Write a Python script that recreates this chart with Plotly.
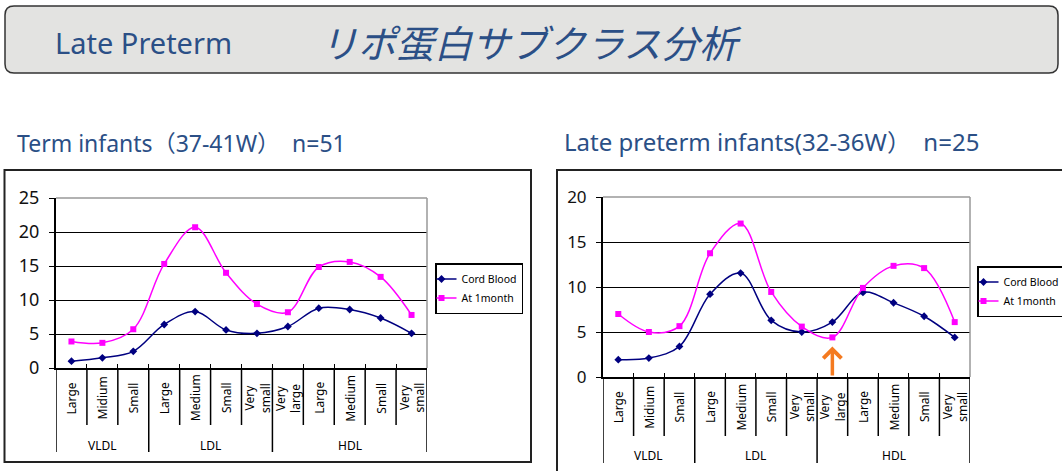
import plotly.graph_objects as go

# ---------------- data ----------------
categories = ["Large", "Midium", "Small", "Large", "Medium", "Small", "Very<br>small",
              "Very<br>large", "Large", "Medium", "Small", "Very<br>small"]
groups = ["VLDL", "LDL", "HDL"]
group_sizes = [3, 4, 5]

term_cord = [1.0, 1.5, 2.45, 6.4, 8.3, 5.6, 5.1, 6.1, 8.8, 8.6, 7.35, 5.1]
term_month = [3.9, 3.7, 5.7, 15.3, 20.7, 14.0, 9.4, 8.2, 14.85, 15.6, 13.4, 7.8]
late_cord = [1.93, 2.1, 3.4, 9.2, 11.55, 6.3, 5.0, 6.1, 9.4, 8.25, 6.75, 4.4]
late_month = [7.0, 5.0, 5.65, 13.75, 17.05, 9.45, 5.6, 4.4, 9.9, 12.35, 12.1, 6.1]
arrow_value = 3.4
arrow_index = 7

series_names = ["Cord Blood", "At 1month"]
main_title = "Late Preterm"
main_title_jp = "リポ蛋白サブクラス分析"
sub_left = "Term infants（37-41W）  n=51"
sub_right = "Late preterm infants(32-36W）  n=25"

# ---------------- layout helpers ----------------
W, H = 1062, 471


def fx(px):
    return px / W


def fy(py):
    return 1 - py / H


LATIN = "Noto Sans, Noto Sans CJK JP, sans-serif"
CJK = "Noto Sans CJK JP, Noto Sans, sans-serif"
BLUE = "#2B4F86"
NAVY = "#000080"
MAGENTA = "#FF00FF"

x_idx = list(range(len(categories)))

fig = go.Figure()

panels = [
    dict(xa="x", ya="y", cord=term_cord, month=term_month, legend="legend",
         xdom=(56, 427), ydom=(368, 198), yrange=25, short_bot=425, long_bot=452,
         cat_y=398, grp_y=445, tickfont=18),
    dict(xa="x2", ya="y2", cord=late_cord, month=late_month, legend="legend2",
         xdom=(603, 970), ydom=(377, 197), yrange=20, short_bot=436, long_bot=463,
         cat_y=407, grp_y=455, tickfont=17),
]

shapes = []
annotations = []

for p in panels:
    fig.add_trace(go.Scatter(
        x=x_idx, y=p["cord"], name=series_names[0], mode="lines+markers",
        line=dict(color=NAVY, width=1.5, shape="spline", smoothing=1.0),
        marker=dict(symbol="diamond", size=6, color=NAVY),
        xaxis=p["xa"], yaxis=p["ya"], legend=p["legend"]))
    fig.add_trace(go.Scatter(
        x=x_idx, y=p["month"], name=series_names[1], mode="lines+markers",
        line=dict(color=MAGENTA, width=1.5, shape="spline", smoothing=1.0),
        marker=dict(symbol="square", size=6, color=MAGENTA),
        xaxis=p["xa"], yaxis=p["ya"], legend=p["legend"]))

    # plot-area top/right border (gray)
    shapes.append(dict(type="line", xref=p["xa"] + " domain", yref=p["ya"] + " domain",
                       x0=0, x1=1, y0=1, y1=1, line=dict(color="#999999", width=1.5), layer="above"))
    shapes.append(dict(type="line", xref=p["xa"] + " domain", yref=p["ya"] + " domain",
                       x0=1, x1=1, y0=0, y1=1, line=dict(color="#999999", width=1.5), layer="above"))

    # category dividers below the axis
    bounds = [-0.5]
    acc = -0.5
    for g in group_sizes:
        acc += g
        bounds.append(acc)
    for k in range(len(categories) + 1):
        xb = k - 0.5
        bottom = p["long_bot"] if xb in bounds else p["short_bot"]
        shapes.append(dict(type="line", xref=p["xa"], yref="paper",
                           x0=xb, x1=xb, y0=fy(p["ydom"][0]), y1=fy(bottom),
                           line=dict(color="black", width=1.5)))

    # category labels
    for i, c in enumerate(categories):
        annotations.append(dict(xref=p["xa"], yref="paper", x=i, y=fy(p["cat_y"]),
                                text=c, showarrow=False, textangle=-90,
                                xanchor="center", yanchor="middle",
                                font=dict(family=LATIN, size=12, color="black")))
    # group labels
    start = 0
    for g, n in zip(groups, group_sizes):
        annotations.append(dict(xref=p["xa"], yref="paper", x=start + (n - 1) / 2,
                                y=fy(p["grp_y"]), text=g, showarrow=False,
                                xanchor="center", yanchor="middle",
                                font=dict(family=LATIN, size=12, color="black")))
        start += n

# arrow on right panel
annotations.append(dict(xref="x2", yref="y2", axref="x2", ayref="y2",
                        x=arrow_index, y=arrow_value, ax=arrow_index, ay=0,
                        text="", showarrow=True, arrowhead=4, arrowsize=1,
                        arrowwidth=3.5, arrowcolor="#F47A20"))

# outer chart boxes
shapes.append(dict(type="rect", xref="paper", yref="paper",
                   x0=fx(4.5), x1=fx(531), y0=fy(462), y1=fy(170),
                   line=dict(color="#222222", width=2), layer="below"))
shapes.append(dict(type="rect", xref="paper", yref="paper",
                   x0=fx(557), x1=fx(1075), y0=fy(480), y1=fy(170),
                   line=dict(color="#222222", width=2), layer="below"))

# banner (rounded rect)
x0, x1, y0, y1, r = 5, 1058, 6, 73, 9
path = (f"M {fx(x0 + r)},{fy(y0)} L {fx(x1 - r)},{fy(y0)} "
        f"Q {fx(x1)},{fy(y0)} {fx(x1)},{fy(y0 + r)} "
        f"L {fx(x1)},{fy(y1 - r)} Q {fx(x1)},{fy(y1)} {fx(x1 - r)},{fy(y1)} "
        f"L {fx(x0 + r)},{fy(y1)} Q {fx(x0)},{fy(y1)} {fx(x0)},{fy(y1 - r)} "
        f"L {fx(x0)},{fy(y0 + r)} Q {fx(x0)},{fy(y0)} {fx(x0 + r)},{fy(y0)} Z")
shapes.append(dict(type="path", xref="paper", yref="paper", path=path,
                   fillcolor="#E3E3E1", line=dict(color="#333333", width=1.5), layer="below"))

annotations.append(dict(xref="paper", yref="paper", x=fx(53), y=fy(43), text=main_title,
                        showarrow=False, xanchor="left", yanchor="middle",
                        font=dict(family=LATIN, size=29, color=BLUE)))
annotations.append(dict(xref="paper", yref="paper", x=fx(318), y=fy(42),
                        text="<i>" + main_title_jp + "</i>",
                        showarrow=False, xanchor="left", yanchor="middle",
                        font=dict(family=CJK, size=38, color=BLUE)))
annotations.append(dict(xref="paper", yref="paper", x=fx(15), y=fy(143), text=sub_left,
                        showarrow=False, xanchor="left", yanchor="middle",
                        font=dict(family=LATIN, size=23, color=BLUE)))
annotations.append(dict(xref="paper", yref="paper", x=fx(562), y=fy(142), text=sub_right,
                        showarrow=False, xanchor="left", yanchor="middle",
                        font=dict(family=LATIN, size=24, color=BLUE)))

legend_style = dict(bgcolor="white", bordercolor="black", borderwidth=1.5,
                    font=dict(family=LATIN, size=10.5, color="black"),
                    xanchor="left", yanchor="top", itemwidth=30, tracegroupgap=0,
                    indentation=-15)

layout = dict(
    width=W, height=H,
    margin=dict(l=0, r=0, t=0, b=0, autoexpand=False),
    paper_bgcolor="white", plot_bgcolor="white",
    showlegend=True,
    legend=dict(x=fx(435), y=fy(263), **legend_style),
    legend2=dict(x=fx(977), y=fy(266), **legend_style),
    shapes=shapes, annotations=annotations,
)

for i, p in enumerate(panels):
    sfx = "" if i == 0 else "2"
    layout["xaxis" + sfx] = dict(
        domain=[fx(p["xdom"][0]), fx(p["xdom"][1])], range=[-0.5, len(categories) - 0.5],
        showgrid=False, zeroline=False, showline=True, linecolor="black", linewidth=2,
        tickvals=[k + 0.5 for k in range(len(categories) - 1)], ticks="inside", ticklen=4,
        tickcolor="black", showticklabels=False, anchor="y" + sfx, fixedrange=True)
    layout["yaxis" + sfx] = dict(
        domain=[fy(p["ydom"][0]), fy(p["ydom"][1])], range=[0, p["yrange"]],
        tickvals=list(range(0, p["yrange"] + 1, 5)), showgrid=True, gridcolor="black",
        gridwidth=1.2, zeroline=False, showline=True, linecolor="black", linewidth=2,
        ticks="outside", ticklen=5, tickcolor="black", ticklabelstandoff=6,
        tickfont=dict(family=LATIN, size=p["tickfont"], color="#111111"),
        anchor="x" + sfx, fixedrange=True)

fig.update_layout(**layout)
fig.write_html("out.html")
